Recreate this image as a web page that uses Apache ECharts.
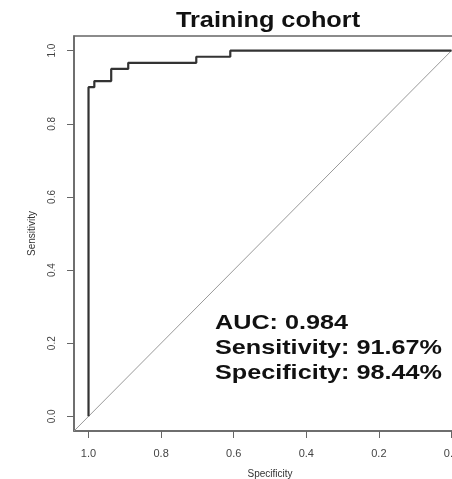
<!DOCTYPE html>
<html>
<head>
<meta charset="utf-8">
<script src="https://cdn.jsdelivr.net/npm/echarts@6/dist/echarts.min.js"></script>
<style>
html,body{margin:0;padding:0;background:#fff;}
#chart{width:452px;height:479px;}
</style>
</head>
<body>
<div id="chart"></div>
<script>
// ROC curve points (specificity, sensitivity)
const specificity = [1.0, 1.0, 0.984, 0.984, 0.9375, 0.9375, 0.8906, 0.8906, 0.7031, 0.7031, 0.6094, 0.6094, 0.0];
const sensitivity = [0.0, 0.9, 0.9, 0.9167, 0.9167, 0.95, 0.95, 0.9667, 0.9667, 0.9833, 0.9833, 1.0, 1.0];
// Reference (chance) line endpoints, spanning the full plot region
const diagSpec = [1.04, -0.04];
const diagSens = [-0.04, 1.04];
// Tick values
const xTicks = [1.0, 0.8, 0.6, 0.4, 0.2, 0.0];
const yTicks = [0.0, 0.2, 0.4, 0.6, 0.8, 1.0];
const titleText = 'Training cohort';
const statLines = ['AUC: 0.984', 'Sensitivity: 91.67%', 'Specificity: 98.44%'];

const chart = echarts.init(document.getElementById('chart'), null, {renderer: 'canvas'});
const rocData = specificity.map((s, i) => [s, sensitivity[i]]);
const diagData = diagSpec.map((s, i) => [s, diagSens[i]]);
const FONT = '"Liberation Sans", Arial, Helvetica, sans-serif';

const statY = [323, 348, 373];
const graphics = [{
  type: 'text', x: 268, y: 21, scaleX: 1.15,
  style: {text: titleText, font: 'bold 22px ' + FONT, fill: '#111', align: 'center', verticalAlign: 'middle'}
}];
statLines.forEach((t, i) => graphics.push({
  type: 'text', x: 215, y: statY[i], scaleX: 1.2,
  style: {text: t, font: 'bold 21px ' + FONT, fill: '#111', align: 'left', verticalAlign: 'middle'}
}));

chart.setOption({
  backgroundColor: '#fff',
  animation: false,
  grid: {left: 74, top: 36, width: 392, height: 395, containLabel: false, outerBoundsMode: 'none',
    show: true, borderColor: '#666', borderWidth: 1.5, backgroundColor: 'transparent'},
  xAxis: {
    type: 'value', inverse: true, min: -0.04, max: 1.04,
    name: 'Specificity', nameLocation: 'middle', nameGap: 38,
    nameTextStyle: {fontFamily: FONT, fontSize: 10, color: '#333'},
    axisLine: {show: true, onZero: false, lineStyle: {color: '#666', width: 1.5}},
    axisTick: {show: true, length: 7, customValues: xTicks, lineStyle: {color: '#666'}},
    axisLabel: {customValues: xTicks, margin: 17, fontFamily: FONT, fontSize: 11, color: '#444',
      formatter: v => Number(v).toFixed(1)},
    splitLine: {show: false}
  },
  yAxis: {
    type: 'value', min: -0.04, max: 1.04,
    name: 'Sensitivity', nameLocation: 'middle', nameGap: 37, nameRotate: 90,
    nameTextStyle: {fontFamily: FONT, fontSize: 10, color: '#333'},
    axisLine: {show: true, onZero: false, lineStyle: {color: '#666', width: 1.5}},
    axisTick: {show: true, length: 7, customValues: yTicks, lineStyle: {color: '#666'}},
    axisLabel: {customValues: yTicks, rotate: 90, margin: 17, fontFamily: FONT, fontSize: 10, color: '#444',
      formatter: v => Number(v).toFixed(1)},
    splitLine: {show: false}
  },
  series: [
    {type: 'line', data: diagData, symbol: 'none', lineStyle: {color: '#999', width: 1}, silent: true, z: 2},
    {type: 'line', data: rocData, symbol: 'none', lineStyle: {color: '#333', width: 2.2}, silent: true, z: 3}
  ],
  graphic: graphics
});
</script>
</body>
</html>
